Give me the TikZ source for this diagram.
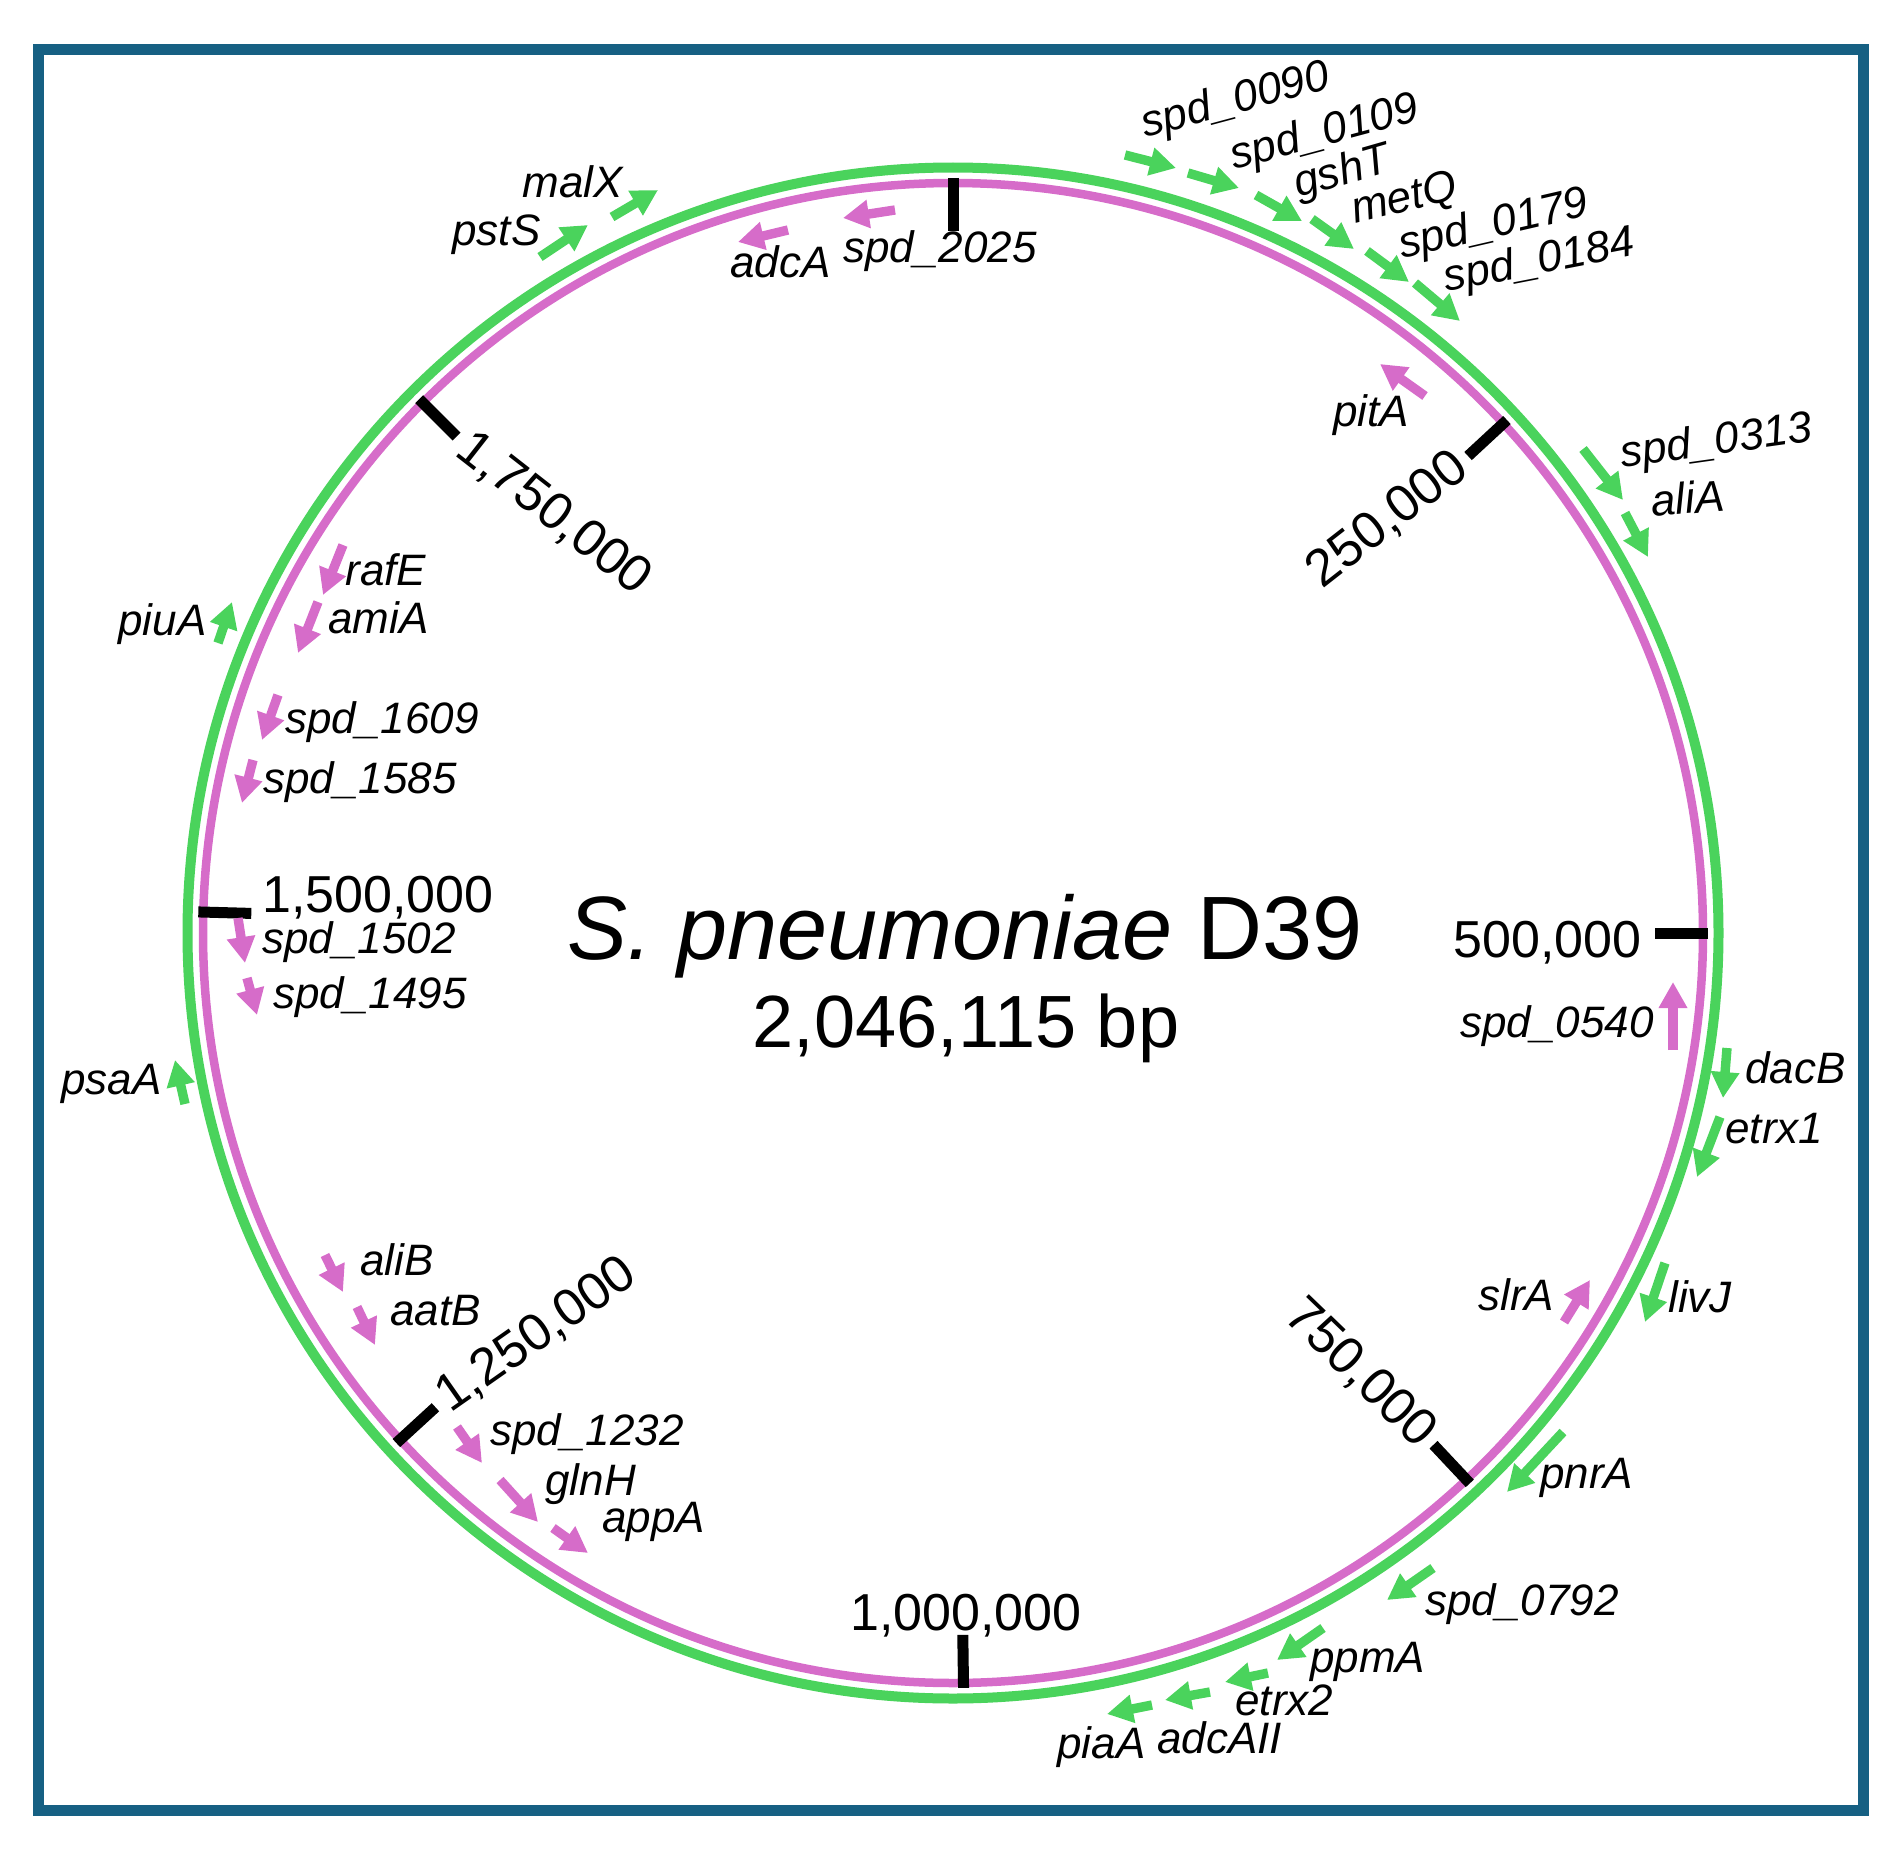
\documentclass[tikz,border=0pt]{standalone}
\usepackage{fontspec}
\setmainfont{Liberation Sans}
\usetikzlibrary{arrows.meta,calc}
\definecolor{frameblue}{RGB}{22,96,131}
\definecolor{ringgreen}{RGB}{74,211,92}
\definecolor{ringmag}{RGB}{214,108,201}
\newcommand\genearr[4]{\coordinate (#2t) at (#3); \coordinate (#2h) at (#4); \draw[#1] (#2t) -- (#2h);}
\begin{document}
\begin{tikzpicture}[x=0.5pt,y=-0.5pt,
  garrow/.style={ringgreen, line width=4.7pt, -{Triangle[length=13pt,width=13.5pt]}},
  marrow/.style={ringmag, line width=4.7pt, -{Triangle[length=13pt,width=13.5pt]}},
  gene/.style={font=\fontsize{22}{26}\selectfont\itshape, inner sep=0pt, anchor=base west},
  ticklab/.style={font=\fontsize{26}{30}\selectfont, inner sep=0pt},
  tickmark/.style={line width=5.5pt, black},
]
\useasboundingbox (0,0) rectangle (1897,1857);
\draw[frameblue, line width=5.5pt] (38.5,49.5) rectangle (1863,1810);
\coordinate (c) at (953,933);
\draw[ringgreen, line width=5pt] (c) circle[radius=765.5];
\draw[ringmag, line width=4.25pt] (c) circle[radius=750];

% ticks
\foreach \nm/\a in {ta/-90, tb/-42.8, tc/0, td/46.8, te/89.2, tf/137.5, tg/181.6, th/225} {
  \coordinate (\nm o) at ($(c)+(\a:755)$);
  \coordinate (\nm i) at ($(c)+(\a:702)$);
  \draw[tickmark] (\nm o) -- (\nm i);
}
\node[ticklab, rotate=38, anchor=east] (l250) at ($(c)+(-42.8:694)$) {250,000};
\node[ticklab, anchor=base east] (l500) at (1642,957) {500,000};
\node[ticklab, rotate=-44, anchor=east] (l750) at ($(c)+(46.8:694)$) {750,000};
\node[ticklab, anchor=base] (l1000) at (966,1630) {1,000,000};
\node[ticklab, rotate=35, anchor=west] (l1250) at ($(c)+(137.5:694)$) {1,250,000};
\node[ticklab, anchor=base west] (l1500) at (262,912) {1,500,000};
\node[ticklab, rotate=-38, anchor=west] (l1750) at ($(c)+(225:694)$) {1,750,000};

% title
\node[font=\fontsize{45}{54}\selectfont, anchor=base, inner sep=0pt] (title) at (965,959) {\textit{S. pneumoniae} D39};
\node[font=\fontsize{37}{44}\selectfont, anchor=base, inner sep=0pt] (size) at (966,1047) {2,046,115 bp};

% green genes (outer)
\genearr{garrow}{g0090}{1125,155}{1176,168}
\node[gene, rotate=15] (lg0090) at (1145,138) {spd\_0090};
\genearr{garrow}{g0109}{1188,173}{1239,188}
\node[gene, rotate=15] (lg0109) at (1234,170) {spd\_0109};
\genearr{garrow}{ggshT}{1256,195}{1302,221}
\node[gene, rotate=16] (lggshT) at (1298,198) {gshT};
\genearr{garrow}{gmetQ}{1312,219}{1354,249}
\node[gene, rotate=14] (lgmetQ) at (1355,224) {metQ};
\genearr{garrow}{g0179}{1367,251}{1409,282}
\node[gene, rotate=13] (lg0179) at (1402,259) {spd\_0179};
\genearr{garrow}{g0184}{1415,283}{1460,321}
\node[gene, rotate=11] (lg0184) at (1446,292) {spd\_0184};
\genearr{garrow}{g0313}{1583,449}{1623,500}
\node[gene, rotate=8] (lg0313) at (1622,468) {spd\_0313};
\genearr{garrow}{galiA}{1625,513}{1648,557}
\node[gene, rotate=5] (lgaliA) at (1652,517) {aliA};
\genearr{garrow}{gdacB}{1727,1048}{1723,1098}
\node[gene] (lgdacB) at (1745,1083) {dacB};
\genearr{garrow}{getrxa}{1720,1117}{1697,1177}
\node[gene] (lgetrxa) at (1725,1143) {etrx1};
\genearr{garrow}{glivJ}{1665,1263}{1645,1322}
\node[gene] (lglivJ) at (1668,1312) {livJ};
\genearr{garrow}{gpnrA}{1563,1432}{1507,1492}
\node[gene] (lgpnrA) at (1540,1488) {pnrA};
\genearr{garrow}{g0792}{1433,1568}{1387,1600}
\node[gene] (lg0792) at (1425,1615) {spd\_0792};
\genearr{garrow}{gppmA}{1323,1628}{1277,1660}
\node[gene] (lgppmA) at (1310,1672) {ppmA};
\genearr{garrow}{getrxb}{1268,1673}{1225,1682}
\node[gene] (lgetrxb) at (1235,1715) {etrx2};
\genearr{garrow}{gadcAII}{1210,1692}{1165,1700}
\node[gene] (lgadcAII) at (1157,1753) {adcAII};
\genearr{garrow}{gpiaA}{1152,1705}{1107,1714}
\node[gene] (lgpiaA) at (1057,1758) {piaA};
\genearr{garrow}{gpsaA}{185,1104}{175,1060}
\node[gene] (lgpsaA) at (61,1094) {psaA};
\genearr{garrow}{gpiuA}{218,643}{232,602}
\node[gene] (lgpiuA) at (118,635) {piuA};
\genearr{garrow}{gpstS}{540,257}{588,225}
\node[gene] (lgpstS) at (452,245) {pstS};
\genearr{garrow}{gmalX}{612,217}{658,190}
\node[gene] (lgmalX) at (522,198) {malX};

% magenta genes (inner)
\genearr{marrow}{madcA}{788,230}{738,242}
\node[gene] (lmadcA) at (730,278) {adcA};
\genearr{marrow}{m2025}{895,210}{843,218}
\node[gene] (lm2025) at (843,263) {spd\_2025};
\genearr{marrow}{mpitA}{1425,396}{1380,364}
\node[gene] (lmpitA) at (1333,426) {pitA};
\genearr{marrow}{m0540}{1673,1050}{1673,982}
\node[gene] (lm0540) at (1460,1037) {spd\_0540};
\genearr{marrow}{mslrA}{1564,1322}{1590,1280}
\node[gene] (lmslrA) at (1478,1310) {slrA};
\genearr{marrow}{mappA}{553,1528}{588,1553}
\node[gene] (lmappA) at (602,1532) {appA};
\genearr{marrow}{mglnH}{500,1480}{538,1522}
\node[gene] (lmglnH) at (545,1495) {glnH};
\genearr{marrow}{m1232}{457,1427}{482,1463}
\node[gene] (lm1232) at (490,1445) {spd\_1232};
\genearr{marrow}{maatB}{357,1307}{375,1345}
\node[gene] (lmaatB) at (390,1325) {aatB};
\genearr{marrow}{maliB}{325,1255}{343,1292}
\node[gene] (lmaliB) at (360,1275) {aliB};
\genearr{marrow}{m1495}{247,978}{257,1015}
\node[gene] (lm1495) at (273,1008) {spd\_1495};
\genearr{marrow}{m1502}{238,918}{245,963}
\node[gene] (lm1502) at (262,953) {spd\_1502};
\genearr{marrow}{m1585}{253,760}{242,803}
\node[gene] (lm1585) at (263,793) {spd\_1585};
\genearr{marrow}{m1609}{278,695}{262,740}
\node[gene] (lm1609) at (285,733) {spd\_1609};
\genearr{marrow}{mamiA}{318,602}{298,653}
\node[gene] (lmamiA) at (328,633) {amiA};
\genearr{marrow}{mrafE}{343,545}{323,595}
\node[gene] (lmrafE) at (345,585) {rafE};
\end{tikzpicture}
\end{document}
